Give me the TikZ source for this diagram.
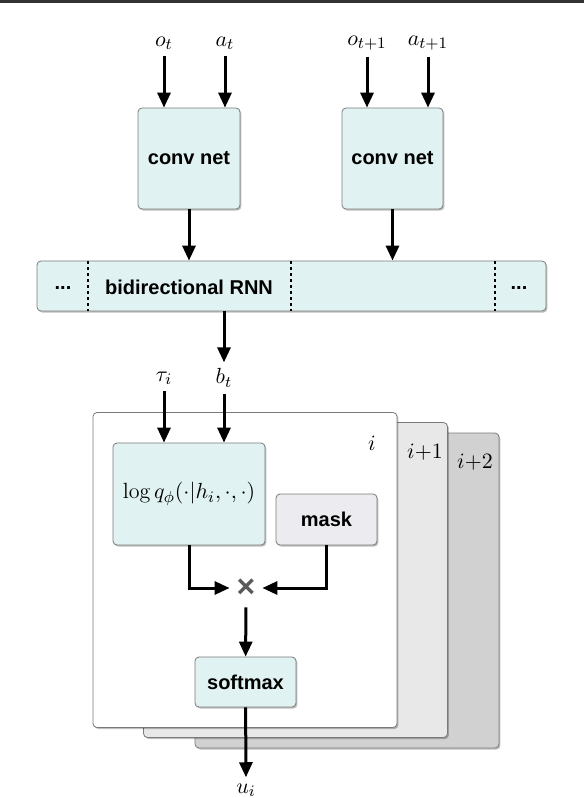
\documentclass[tikz,border=0pt]{standalone}
\usepackage{fontspec}
\newfontfamily\boxfont{Liberation Sans}
\usetikzlibrary{arrows.meta,shadows}
\definecolor{boxfill}{HTML}{E0F2F1}
\definecolor{maskfill}{HTML}{EBEBF0}
\definecolor{edgegray}{HTML}{7A7A7A}
\begin{document}
\begin{tikzpicture}[x=0.5pt,y=-0.5pt,
    blk/.style={draw=edgegray,fill=boxfill,rounded corners=2pt,inner sep=0pt,
      font=\boxfont\bfseries\fontsize{10}{12}\selectfont,
      drop shadow={shadow xshift=0.7pt,shadow yshift=-0.8pt,fill=black,opacity=0.25}},
    panel/.style={blk,fill=white,minimum width=152pt,minimum height=157.5pt},
    lbl/.style={inner sep=3pt,font=\fontsize{11}{13}\selectfont},
    arr/.style={-{Triangle[length=7.5pt,width=6.5pt]},line width=1.5pt},
    divider/.style={dash pattern=on 1.5pt off 1.5pt,line width=0.7pt}]
  \useasboundingbox (0,0) rectangle (584,798);
  \fill[black!80] (0,0) rectangle (584,3);
  \draw
    (164,43) node[lbl] (ot){$o_t$}
    (225,43) node[lbl] (at){$a_t$}
    (367,43) node[lbl] (ot1){$o_{t+1}$}
    (428,43) node[lbl] (at1){$a_{t+1}$}
    (189,158.5) node[blk,minimum width=51pt,minimum height=50.5pt] (conv1){conv net}
    (392.5,158.5) node[blk,minimum width=50.5pt,minimum height=50.5pt] (conv2){conv net}
    (291.5,286) node[blk,minimum width=254.5pt,minimum height=25pt] (rnn){}
    (189,287) node[font=\boxfont\bfseries\fontsize{10}{12}\selectfont] (rnntxt){bidirectional RNN}
    (63,288) node[font=\boxfont\bfseries\fontsize{10}{12}\selectfont] (dotsl){...}
    (519,288) node[font=\boxfont\bfseries\fontsize{10}{12}\selectfont] (dotsr){...}
    (164,378) node[lbl] (tau){$\tau_i$}
    (224,378) node[lbl] (bt){$b_t$};
  \draw[divider] (88,261) -- (88,311);
  \draw[divider] (291,261) -- (291,311);
  \draw[divider] (495,261) -- (495,311);
  % stacked panels, back to front
  \draw
    (347,590.5) node[panel,fill=black!18] (p2){}
    (295.5,580) node[panel,fill=black!9] (p1){}
    (245,570) node[panel] (p0){}
    (475,462) node[lbl] (li2){$i{+}2$}
    (425,452) node[lbl] (li1){$i{+}1$}
    (372,443) node[lbl] (li0){$i$}
    (189,494) node[blk,minimum width=76pt,minimum height=51pt,font=\fontsize{11}{12}\selectfont] (logq){$\log q_\phi(\cdot|h_i,\cdot,\cdot)$}
    (326.5,519.5) node[blk,fill=maskfill,minimum width=50.5pt,minimum height=25.5pt] (mask){mask}
    (246,588) node[inner sep=0pt,minimum width=16pt,minimum height=19pt,text=black!65,font=\boxfont\bfseries\fontsize{16}{16}\selectfont] (times){×}
    (245.5,682) node[blk,minimum width=50.5pt,minimum height=25pt] (soft){softmax}
    (246,790) node[lbl] (ui){$u_i$};
  \begin{scope}[arr]
    \draw (ot) to (ot |- conv1.north);
    \draw (at) to (at |- conv1.north);
    \draw (ot1) to (ot1 |- conv2.north);
    \draw (at1) to (at1 |- conv2.north);
    \draw (conv1) to (conv1 |- rnn.north);
    \draw (conv2) to (conv2 |- rnn.north);
    \draw (rnn.south -| bt) to (bt);
    \draw (tau) to (tau |- logq.north);
    \draw (bt) to (bt |- logq.north);
    \draw (logq) |- (times);
    \draw (mask) |- (times);
    \draw (times) to (soft);
    \draw (soft) to (ui);
  \end{scope}
\end{tikzpicture}
\end{document}
